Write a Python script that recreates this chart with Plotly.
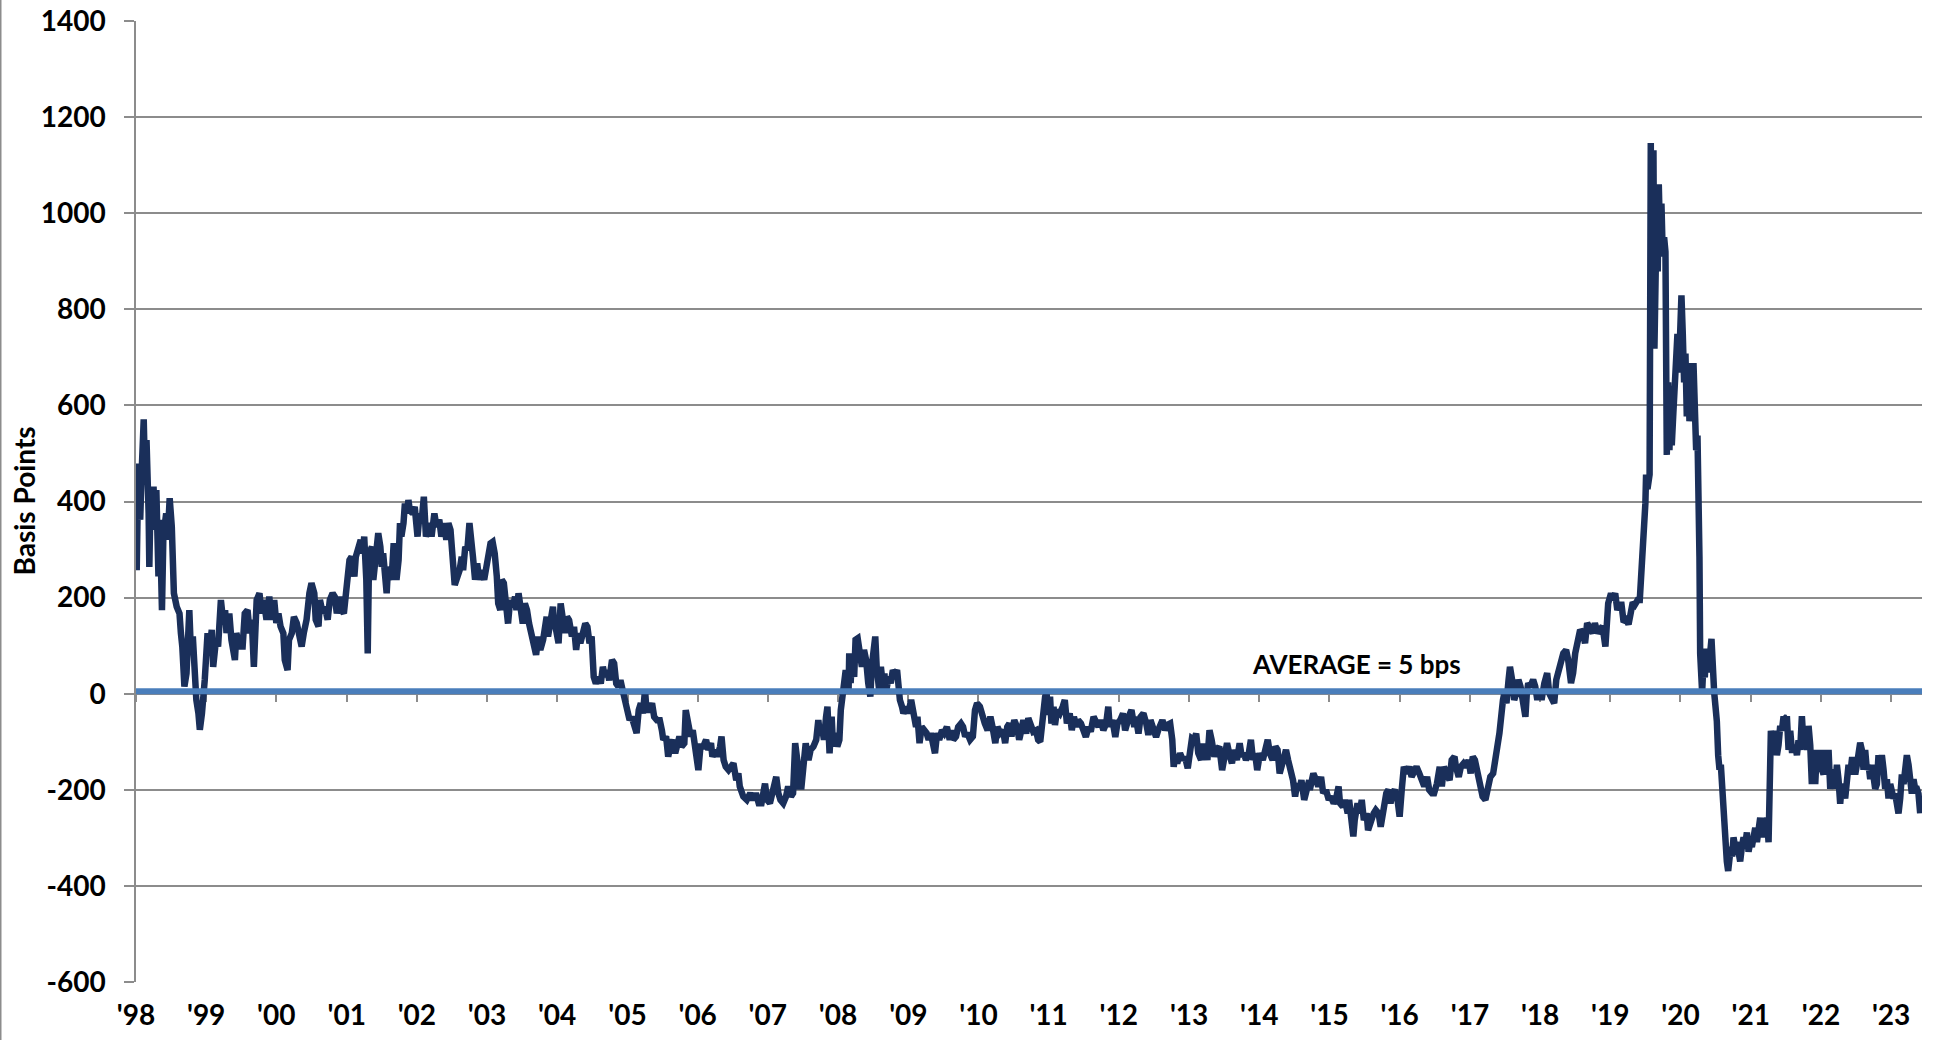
import datetime
import numpy as np
import plotly.graph_objects as go

# ---------------- data ----------------
# position along the time axis, as fractional calendar years
year_pos = [
    1998.00, 1998.01, 1998.03, 1998.06, 1998.08, 1998.11, 1998.13, 1998.15, 1998.18, 1998.19,
    1998.21, 1998.23, 1998.25, 1998.27, 1998.29, 1998.32, 1998.34, 1998.37, 1998.39, 1998.43,
    1998.45, 1998.48, 1998.51, 1998.54, 1998.58, 1998.62, 1998.64, 1998.66, 1998.69, 1998.72,
    1998.76, 1998.78, 1998.81, 1998.84, 1998.86, 1998.89, 1998.91, 1998.94, 1998.96, 1998.98,
    1999.02, 1999.04, 1999.08, 1999.10, 1999.14, 1999.17, 1999.21, 1999.24, 1999.27, 1999.29,
    1999.33, 1999.36, 1999.41, 1999.43, 1999.48, 1999.52, 1999.55, 1999.59, 1999.62, 1999.65,
    1999.68, 1999.72, 1999.76, 1999.79, 1999.82, 1999.86, 1999.90, 1999.93, 1999.97, 2000.00,
    2000.03, 2000.06, 2000.10, 2000.12, 2000.16, 2000.18, 2000.22, 2000.25, 2000.29, 2000.33,
    2000.36, 2000.39, 2000.43, 2000.47, 2000.50, 2000.54, 2000.56, 2000.60, 2000.62, 2000.66,
    2000.69, 2000.73, 2000.76, 2000.80, 2000.83, 2000.86, 2000.90, 2000.93, 2000.96, 2001.00,
    2001.04, 2001.07, 2001.11, 2001.13, 2001.17, 2001.20, 2001.23, 2001.25, 2001.28, 2001.30,
    2001.32, 2001.36, 2001.38, 2001.42, 2001.45, 2001.48, 2001.50, 2001.52, 2001.55, 2001.57,
    2001.59, 2001.62, 2001.64, 2001.67, 2001.69, 2001.71, 2001.74, 2001.76, 2001.78, 2001.81,
    2001.83, 2001.86, 2001.88, 2001.90, 2001.94, 2001.97, 2002.01, 2002.04, 2002.07, 2002.10,
    2002.13, 2002.16,
    2002.19, 2002.21, 2002.25, 2002.28, 2002.32, 2002.35, 2002.39, 2002.42, 2002.45, 2002.48,
    2002.51, 2002.54, 2002.58, 2002.61, 2002.64, 2002.66, 2002.69, 2002.72, 2002.75, 2002.77,
    2002.80, 2002.83, 2002.86, 2002.89, 2002.92, 2002.96, 2002.99, 2003.02, 2003.05, 2003.08,
    2003.11, 2003.14, 2003.16, 2003.19, 2003.21, 2003.24, 2003.27, 2003.30, 2003.33, 2003.37,
    2003.40, 2003.42, 2003.45, 2003.47, 2003.51, 2003.54, 2003.57, 2003.60, 2003.64, 2003.67,
    2003.70, 2003.73, 2003.76, 2003.80, 2003.83, 2003.85, 2003.87, 2003.91, 2003.94, 2003.95,
    2003.98, 2004.02, 2004.05, 2004.08, 2004.11, 2004.14, 2004.17, 2004.21, 2004.24, 2004.27,
    2004.30, 2004.33, 2004.36, 2004.40, 2004.43, 2004.46, 2004.49, 2004.52, 2004.55, 2004.59,
    2004.62, 2004.65, 2004.68, 2004.71, 2004.74, 2004.78, 2004.81, 2004.84, 2004.87, 2004.90,
    2004.93, 2004.97, 2005.00, 2005.03, 2005.06, 2005.09, 2005.13, 2005.16, 2005.19, 2005.22,
    2005.25, 2005.27, 2005.31, 2005.35, 2005.38, 2005.42, 2005.46, 2005.49, 2005.51, 2005.55,
    2005.58, 2005.62, 2005.64, 2005.68, 2005.71, 2005.74, 2005.77, 2005.81, 2005.83, 2005.87,
    2005.90, 2005.93, 2005.96, 2005.99, 2006.01, 2006.04, 2006.08, 2006.12, 2006.15, 2006.19,
    2006.21, 2006.25, 2006.28, 2006.32, 2006.34, 2006.37, 2006.40, 2006.44,
    2006.47, 2006.51, 2006.55, 2006.58, 2006.60, 2006.65, 2006.70, 2006.75, 2006.79, 2006.83,
    2006.87, 2006.91, 2006.96, 2006.99, 2007.03, 2007.07, 2007.12, 2007.15, 2007.18, 2007.22,
    2007.26, 2007.29, 2007.33, 2007.36, 2007.39, 2007.42, 2007.45, 2007.48, 2007.51, 2007.54,
    2007.58, 2007.61, 2007.65, 2007.69, 2007.72, 2007.74, 2007.77, 2007.80, 2007.83, 2007.85,
    2007.88, 2007.91, 2007.93, 2007.96, 2007.99, 2008.02, 2008.04, 2008.07, 2008.09, 2008.11,
    2008.15, 2008.16, 2008.18, 2008.20, 2008.23, 2008.25, 2008.28, 2008.30, 2008.34, 2008.37,
    2008.40, 2008.43, 2008.46, 2008.48, 2008.51, 2008.53, 2008.55, 2008.59, 2008.61, 2008.64,
    2008.66, 2008.68, 2008.72, 2008.75, 2008.78, 2008.81, 2008.84, 2008.86, 2008.88, 2008.91,
    2008.93, 2008.97, 2009.00, 2009.04, 2009.07, 2009.11, 2009.13, 2009.16, 2009.19, 2009.23,
    2009.26, 2009.29, 2009.32, 2009.36, 2009.38, 2009.41, 2009.44, 2009.48, 2009.51, 2009.55,
    2009.59, 2009.62, 2009.64, 2009.68, 2009.71, 2009.75, 2009.78, 2009.81, 2009.84, 2009.88,
    2009.92, 2009.95, 2009.98, 2010.02, 2010.06, 2010.09, 2010.13, 2010.17, 2010.20, 2010.24,
    2010.27, 2010.31, 2010.35, 2010.38, 2010.41, 2010.44, 2010.47, 2010.51, 2010.55, 2010.58,
    2010.59, 2010.64, 2010.68, 2010.71, 2010.74, 2010.78, 2010.82, 2010.85, 2010.88, 2010.90,
    2010.92, 2010.95, 2010.97, 2011.00, 2011.02, 2011.04, 2011.07, 2011.09, 2011.12, 2011.16,
    2011.20, 2011.23, 2011.26, 2011.30, 2011.33, 2011.36, 2011.40, 2011.42, 2011.46, 2011.49,
    2011.53, 2011.57, 2011.60, 2011.64, 2011.68, 2011.71, 2011.74, 2011.78, 2011.82, 2011.85,
    2011.87, 2011.91, 2011.95, 2011.98, 2012.02, 2012.06, 2012.09, 2012.12, 2012.16, 2012.18,
    2012.22, 2012.24, 2012.28, 2012.31, 2012.35, 2012.39, 2012.42, 2012.45, 2012.49, 2012.53,
    2012.56, 2012.60, 2012.62, 2012.66, 2012.69, 2012.73, 2012.76, 2012.78, 2012.80, 2012.83,
    2012.87, 2012.91, 2012.94, 2012.98, 2013.00, 2013.04, 2013.07, 2013.10, 2013.13, 2013.17,
    2013.19, 2013.23, 2013.26, 2013.29, 2013.32, 2013.36, 2013.39, 2013.43, 2013.47, 2013.50,
    2013.54, 2013.57, 2013.61, 2013.64, 2013.68, 2013.72, 2013.75, 2013.78, 2013.81, 2013.85,
    2013.88, 2013.91, 2013.94, 2013.97, 2014.01, 2014.05, 2014.08, 2014.12, 2014.15, 2014.19,
    2014.23, 2014.26, 2014.29, 2014.32, 2014.35, 2014.38, 2014.41, 2014.45, 2014.48, 2014.51,
    2014.54, 2014.57, 2014.60, 2014.64, 2014.68, 2014.71,
    2014.72, 2014.77, 2014.81, 2014.84, 2014.88, 2014.91, 2014.95, 2014.99, 2015.02, 2015.06,
    2015.09, 2015.13, 2015.15, 2015.19, 2015.22, 2015.26, 2015.28, 2015.32, 2015.34, 2015.36,
    2015.40, 2015.43, 2015.46, 2015.49, 2015.53, 2015.55, 2015.59, 2015.63, 2015.66, 2015.70,
    2015.73, 2015.77, 2015.81, 2015.84, 2015.87, 2015.90, 2015.93, 2015.97, 2016.00, 2016.03,
    2016.06, 2016.10, 2016.14, 2016.17, 2016.21, 2016.24, 2016.28, 2016.31, 2016.35, 2016.39,
    2016.42, 2016.46, 2016.49, 2016.53, 2016.57, 2016.60, 2016.63, 2016.67, 2016.71, 2016.74,
    2016.78, 2016.80, 2016.84, 2016.87, 2016.91, 2016.95, 2016.98, 2017.01, 2017.04, 2017.07,
    2017.11, 2017.14, 2017.18, 2017.22, 2017.25, 2017.29, 2017.33, 2017.36, 2017.39, 2017.42,
    2017.44, 2017.47, 2017.49, 2017.52, 2017.55, 2017.57, 2017.60, 2017.63, 2017.66, 2017.69,
    2017.72, 2017.75, 2017.79, 2017.81, 2017.83, 2017.86, 2017.90, 2017.93, 2017.96, 2017.99,
    2018.02, 2018.06, 2018.10, 2018.13, 2018.17, 2018.20, 2018.23, 2018.26, 2018.29, 2018.33,
    2018.37, 2018.40, 2018.44, 2018.47, 2018.50, 2018.53, 2018.57, 2018.61, 2018.64, 2018.67,
    2018.71, 2018.75, 2018.78, 2018.82, 2018.85, 2018.89, 2018.93, 2018.95, 2018.97, 2019.01,
    2019.03, 2019.07, 2019.10,
    2019.130, 2019.160, 2019.190, 2019.230, 2019.260, 2019.290, 2019.320, 2019.350, 2019.390, 2019.420,
    2019.435, 2019.460, 2019.470, 2019.500, 2019.510, 2019.530, 2019.560, 2019.567, 2019.577, 2019.591,
    2019.600, 2019.615, 2019.629, 2019.643, 2019.662, 2019.676, 2019.691, 2019.710, 2019.729, 2019.748,
    2019.767, 2019.786, 2019.795, 2019.805, 2019.824, 2019.843, 2019.862, 2019.876, 2019.900, 2019.919,
    2019.938, 2019.957, 2019.976, 2019.995, 2020.014, 2020.033, 2020.052, 2020.071, 2020.090, 2020.109,
    2020.128, 2020.147, 2020.166, 2020.185, 2020.204, 2020.223, 2020.242, 2020.251, 2020.261, 2020.270,
    2020.280, 2020.289, 2020.308, 2020.327, 2020.346, 2020.365, 2020.384, 2020.403, 2020.422, 2020.441,
    2020.460, 2020.479, 2020.498, 2020.517, 2020.536, 2020.555, 2020.574, 2020.593, 2020.612, 2020.621,
    2020.640, 2020.659, 2020.678, 2020.697, 2020.716, 2020.735, 2020.754, 2020.778, 2020.802, 2020.825,
    2020.849, 2020.873, 2020.897, 2020.925, 2020.944, 2020.968, 2020.992, 2021.015, 2021.039, 2021.063,
    2021.087, 2021.110, 2021.134, 2021.158, 2021.182, 2021.205, 2021.229, 2021.253, 2021.267, 2021.286,
    2021.305, 2021.324, 2021.348, 2021.372, 2021.395, 2021.419, 2021.443, 2021.467, 2021.490, 2021.514,
    2021.538, 2021.562, 2021.585, 2021.609, 2021.633, 2021.657, 2021.680, 2021.704, 2021.728, 2021.752,
    2021.775, 2021.799, 2021.823, 2021.847, 2021.870, 2021.894, 2021.918, 2021.942, 2021.965, 2021.989,
    2022.013, 2022.037, 2022.060, 2022.084, 2022.108, 2022.132, 2022.155, 2022.179, 2022.203, 2022.227,
    2022.250, 2022.274, 2022.298, 2022.322, 2022.345, 2022.369, 2022.393, 2022.417, 2022.440, 2022.464,
    2022.488, 2022.512, 2022.535, 2022.559, 2022.583, 2022.607, 2022.630, 2022.654, 2022.678, 2022.702,
    2022.725, 2022.749, 2022.773, 2022.797, 2022.820, 2022.844, 2022.868, 2022.892, 2022.915, 2022.939,
    2022.963, 2022.987, 2023.010, 2023.034, 2023.058, 2023.082, 2023.105, 2023.129, 2023.153, 2023.177,
    2023.200, 2023.224, 2023.248, 2023.272, 2023.295, 2023.319, 2023.343, 2023.367, 2023.390, 2023.414,
]

# spread, in basis points
spread_bps = [
    479, 257, 445, 362, 459, 571, 445, 528, 375, 264,
    424, 375, 431, 341, 424, 244, 362, 174, 327, 375,
    320, 407, 348, 209, 181, 167, 126, 98, 15, 42,
    174, 98, 119, 29, -13, -41, -75, -41, -13, 29,
    126, 84, 133, 56, 112, 98, 195, 154, 174, 126,
    167, 112, 70, 126, 98, 98, 167, 174, 126, 154,
    56, 195, 209, 167, 195, 154, 202, 154, 195, 147,
    167, 140, 126, 70, 49, 112, 126, 160, 147, 126,
    98, 126, 154, 209, 230, 209, 154, 140, 195, 167,
    181, 154, 195, 209, 202, 167, 202, 174, 167, 223,
    278, 285, 244, 285, 306, 320, 292, 327, 237, 84,
    292, 306, 237, 313, 334, 306, 264, 292, 237, 209,
    264, 250, 237, 313, 264, 237, 278, 355, 327, 355,
    396, 375, 403, 382, 375, 389, 327, 375, 362, 410,
    327, 348,
    355, 327, 375, 348, 362, 327, 355, 320, 355, 341,
    271, 226, 244, 257, 285, 257, 306, 299, 355, 334,
    285, 237, 271, 237, 257, 237, 271, 299, 313, 316,
    292, 244, 188, 174, 237, 230, 188, 146, 195, 181,
    202, 174, 209, 188, 146, 188, 174, 146, 119, 105,
    81, 119, 91, 112, 146, 160, 119, 146, 181, 160,
    133, 105, 188, 139, 126, 160, 153, 119, 139, 91,
    126, 105, 126, 146, 139, 105, 119, 35, 21, 35,
    21, 56, 35, 49, 28, 70, 63, 21, 15, 28,
    8, -20, -41, -55, -48, -62, -82, -34, -20, -41,
    8, -34, -34, -20, -48, -55, -55, -76, -96, -89,
    -131, -103, -96, -124, -103, -89, -110, -103, -34, -62,
    -89, -76, -117, -145, -159, -110, -110, -96, -117, -103,
    -131, -117, -131, -110, -89, -138, -152, -159,
    -152, -145, -180, -166, -193, -214, -221, -207, -221, -207,
    -228, -228, -187, -221, -228, -200, -173, -207, -221, -228,
    -214, -193, -214, -207, -103, -138, -193, -193, -152, -103,
    -138, -117, -110, -96, -55, -82, -69, -96, -48, -27,
    -124, -48, -110, -82, -110, -96, -34, -6, 22, 49,
    1, 84, 22, 77, 35, 112, 115, 84, 56, 91,
    70, 22, -6, 56, 112, 119, 56, 1, 56, 15,
    42, 1, 35, 22, 49, 42, 49, 1, -13, -27,
    -41, -27, -41, -13, -34, -69, -48, -103, -69, -76,
    -82, -96, -82, -110, -124, -82, -96, -76, -82, -69,
    -96, -76, -96, -89, -69, -62, -69, -89, -82, -96,
    -89, -34, -20, -27, -55, -62, -76, -48, -69, -103,
    -69, -82, -76, -103, -69, -62, -89, -55, -69, -96,
    -90, -55, -83, -51, -62, -79, -76, -96, -100, -69,
    -27, -6, 1, -44, -6, -62, -27, -65, -34, -41,
    -27, -13, -62, -41, -76, -48, -69, -55, -62, -76,
    -90, -69, -79, -48, -62, -69, -55, -76, -62, -27,
    -69, -55, -90, -62, -55, -41, -76, -55, -41, -34,
    -69, -48, -83, -48, -41, -62, -86, -55, -69, -90,
    -76, -62, -55, -76, -65, -62, -96, -152, -131, -145,
    -124, -138, -131, -155, -138, -93, -96, -83, -124, -138,
    -110, -110, -138, -76, -96, -131, -117, -110, -159, -131,
    -103, -124, -145, -117, -138, -103, -131, -124, -138, -124,
    -96, -138, -124, -159, -124, -138, -124, -96, -124, -138,
    -110, -117, -166, -152, -138, -117, -138, -159, -180, -214,
    -187, -201, -180, -221, -194, -180,
    -200, -166, -180, -193, -173, -207, -200, -221, -214, -228,
    -221, -193, -228, -235, -221, -249, -221, -263, -297, -263,
    -228, -249, -221, -263, -249, -284, -263, -249, -242, -249,
    -277, -235, -207, -200, -228, -207, -200, -221, -256, -200,
    -152, -166, -152, -173, -159, -152, -166, -180, -193, -173,
    -200, -207, -207, -187, -152, -193, -152, -166, -180, -138,
    -131, -152, -173, -152, -145, -152, -138, -166, -131, -138,
    -166, -187, -214, -221, -193, -173, -166, -124, -110, -82,
    -41, -13, 1, -20, 29, 56, 29, -13, 1, 29,
    15, -13, -48, 1, 22, 15, 29, 15, -13, 8,
    -13, 22, 43, 1, -13, -20, 29, 50, 63, 84,
    91, 70, 22, 43, 84, 112, 133, 126, 105, 147,
    133, 126, 147, 126, 133, 140, 98, 153, 188, 209,
    195, 209, 174,
    185, 185, 149, 154, 144, 164, 190, 185, 195, 195,
    235, 255, 315, 396, 456, 426, 456, 889, 1146, 718,
    1050, 1131, 718, 889, 1010, 879, 1060, 940, 1020, 910,
    950, 920, 688, 497, 648, 507, 628, 517, 588, 668,
    688, 749, 668, 758, 829, 749, 648, 708, 577, 688,
    567, 628, 598, 688, 628, 507, 537, 456, 487, 285,
    84, 24, 3, 64, 34, 94, 44, 74, 84, 114,
    24, 3, -27, -57, -128, -158, -148, -198, -218, -299,
    -299, -349, -369, -329, -319, -339, -299, -319, -309, -329,
    -349, -319, -299, -309, -289, -329, -309, -319, -289, -279,
    -309, -279, -258, -299, -268, -279, -258, -309, -128, -77,
    -97, -117, -77, -128, -107, -67, -77, -47, -52, -47,
    -117, -77, -117, -117, -107, -128, -97, -117, -47, -107,
    -67, -117, -67, -107, -188, -128, -188, -117, -158, -117,
    -158, -168, -117, -168, -117, -198, -168, -158, -198, -148,
    -178, -229, -188, -198, -218, -178, -148, -168, -138, -138,
    -168, -148, -117, -102, -117, -158, -117, -158, -148, -178,
    -148, -188, -198, -188, -128, -158, -128, -158, -198, -178,
    -218, -188, -198, -218, -208, -239, -249, -218, -168, -188,
    -148, -128, -148, -178, -208, -178, -198, -198, -208, -249,
]

average_bps = 5
tick_years = list(range(1998, 2024))
tick_text = ["'" + str(y)[2:] for y in tick_years]
y_ticks = [-600, -400, -200, 0, 200, 400, 600, 800, 1000, 1200, 1400]
y_tick_text = [str(v) for v in y_ticks]
x_start_year = 1998.0
x_end_year = 2023.44
y_range = [-600, 1400]


def frac_year_to_date(y):
    yr = int(np.floor(y + 1e-9))
    start = datetime.datetime(yr, 1, 1)
    end = datetime.datetime(yr + 1, 1, 1)
    return start + (end - start) * (y - yr)


dates = [frac_year_to_date(y) for y in year_pos]
x_range = [frac_year_to_date(x_start_year), frac_year_to_date(x_end_year)]
tick_vals = [datetime.datetime(y, 1, 1) for y in tick_years]

NAVY = "#1a2f5a"
BLUE = "#4a7ebb"
GRID = "#8c8c8c"
FONT = "Lato"

fig = go.Figure()
fig.add_trace(go.Scatter(
    x=dates, y=spread_bps, mode="lines",
    line=dict(color=NAVY, width=6.5), xaxis="x", yaxis="y",
    showlegend=False, hoverinfo="skip",
))
fig.add_trace(go.Scatter(
    x=x_range, y=[average_bps, average_bps], mode="lines",
    line=dict(color=BLUE, width=6), xaxis="x2", yaxis="y",
    showlegend=False, hoverinfo="skip",
))

zero_pos = (0 - y_range[0]) / (y_range[1] - y_range[0])

fig.update_layout(
    width=1942, height=1040,
    margin=dict(l=136, r=20, t=21, b=58),
    paper_bgcolor="white", plot_bgcolor="white",
    font=dict(family=FONT, color="black"),
    xaxis=dict(
        type="date", range=x_range, tickmode="array",
        tickvals=tick_vals, ticktext=tick_text, automargin=False,
        showgrid=False, zeroline=False, showline=False, ticks="",
        tickfont=dict(family=FONT, size=28, color="black", weight="bold"),
        ticklabelstandoff=14,
    ),
    xaxis2=dict(
        type="date", range=x_range, overlaying="x", anchor="free",
        position=zero_pos, side="bottom", tickmode="array",
        tickvals=tick_vals, showticklabels=False, automargin=False,
        ticks="outside", ticklen=8, tickwidth=1.5, tickcolor=GRID,
        showline=True, linecolor=GRID, linewidth=1.5,
        showgrid=False, zeroline=False, layer="below traces",
    ),
    yaxis=dict(
        range=y_range, tickmode="array", tickvals=y_ticks, ticktext=y_tick_text,
        automargin=False,
        showgrid=True, gridcolor=GRID, gridwidth=1.5,
        zeroline=False, showline=True, linecolor=GRID, linewidth=1.5,
        ticks="outside", ticklen=10, tickwidth=1.5, tickcolor=GRID,
        tickfont=dict(family=FONT, size=28, color="black", weight="bold"),
        ticklabelstandoff=13,
    ),
    annotations=[
        dict(
            text="Basis Points", textangle=-90, xref="paper", yref="paper",
            x=(23 - 136) / 1786, y=0.5, xanchor="center", yanchor="middle",
            showarrow=False,
            font=dict(family=FONT, size=28, color="black", weight="bold"),
        ),
        dict(
            text="AVERAGE = 5 bps", xref="x", yref="y",
            x=frac_year_to_date(2015.38), y=average_bps,
            xanchor="center", yanchor="bottom", yshift=9, showarrow=False,
            font=dict(family=FONT, size=26, color="black", weight="bold"),
        ),
    ],
    shapes=[
        dict(type="line", xref="paper", yref="paper",
             x0=(0.75 - 136) / 1786, x1=(0.75 - 136) / 1786,
             y0=-58 / 961, y1=1 + 21 / 961,
             line=dict(color=GRID, width=1.5)),
    ],
)

fig.write_html(
    "out.html",
    config={"displayModeBar": False},
    post_script="document.body.style.margin='0';document.body.style.overflow='hidden';",
)
